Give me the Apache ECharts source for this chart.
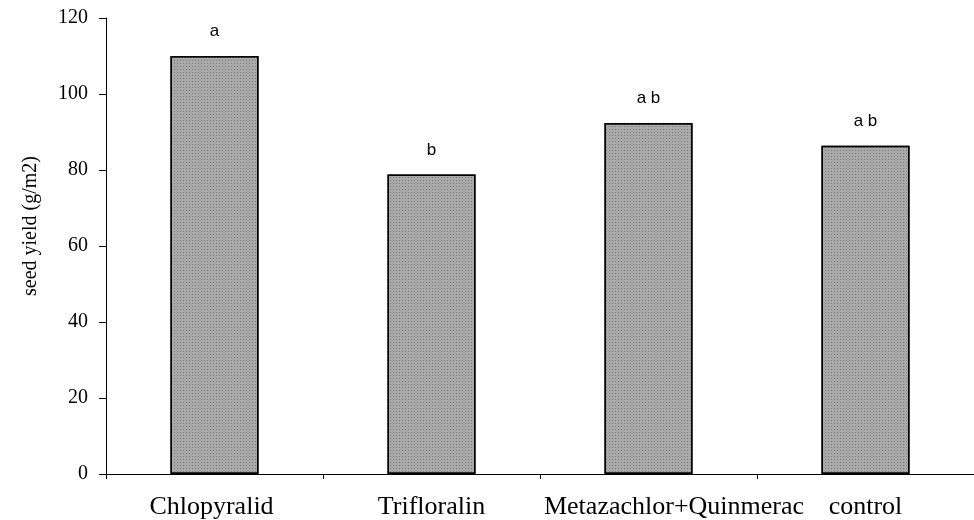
<!DOCTYPE html>
<html>
<head>
<meta charset="utf-8">
<script src="https://cdn.jsdelivr.net/npm/echarts@6/dist/echarts.min.js"></script>
<style>html,body{margin:0;padding:0;background:#fff}#c{width:974px;height:520px}</style>
</head>
<body>
<div id="c"></div>
<script>
var categories = ['Chlopyralid', 'Trifloralin', 'Metazachlor+Quinmerac', 'control'];
var seedYield = [110, 78.8, 92.4, 86.4];
var letters = ['a', 'b', 'a b', 'a b'];
var yTicks = [0, 20, 40, 60, 80, 100, 120];

var chart = echarts.init(document.getElementById('c'), null, {renderer: 'canvas'});
var serif = '"Liberation Serif", "Times New Roman", serif';
var sans = '"Liberation Sans", Arial, sans-serif';

chart.setOption({
  animation: false,
  backgroundColor: '#fff',
  grid: {left: 106, top: 18, width: 876, height: 456, containLabel: false},
  xAxis: {
    type: 'category',
    data: categories,
    axisLine: {lineStyle: {color: '#000', width: 1}},
    axisTick: {show: true, length: 5, lineStyle: {color: '#000'}},
    axisLabel: {
      interval: 0,
      margin: 20,
      color: '#000',
      fontFamily: serif,
      fontSize: 26,
      formatter: function (v, i) { return '{c' + i + '|' + v + '}'; },
      rich: {
        c0: {fontFamily: serif, fontSize: 26, color: '#000', padding: [0, 6, 0, 0]},
        c1: {fontFamily: serif, fontSize: 26, color: '#000'},
        c2: {fontFamily: serif, fontSize: 26, color: '#000', padding: [0, 0, 0, 51]},
        c3: {fontFamily: serif, fontSize: 26, color: '#000', padding: [0, 0, 0, 0]}
      }
    }
  },
  yAxis: {
    type: 'value',
    min: yTicks[0],
    max: yTicks[yTicks.length - 1],
    interval: 20,
    name: 'seed yield (g/m2)',
    nameLocation: 'middle',
    nameRotate: 90,
    nameGap: 65,
    nameTextStyle: {fontFamily: serif, fontSize: 20, color: '#000', padding: [0, 0, 0, 40]},
    axisLine: {show: true, lineStyle: {color: '#000', width: 1}},
    axisTick: {show: true, length: 7, lineStyle: {color: '#000'}},
    axisLabel: {margin: 18, color: '#000', fontFamily: serif, fontSize: 20},
    splitLine: {show: false}
  },
  series: [{
    type: 'bar',
    data: seedYield,
    barWidth: 88,
    itemStyle: {
      color: '#a9a9a9',
      borderColor: '#000',
      borderWidth: 1.5,
      decal: {
        symbol: 'rect',
        symbolSize: 1,
        dashArrayX: [1, 2],
        dashArrayY: [1, 2],
        color: '#7d7d7d',
        rotation: 0
      }
    },
    label: {
      show: true,
      position: 'top',
      distance: 16,
      fontFamily: sans,
      fontSize: 17,
      color: '#000',
      formatter: function (p) { return letters[p.dataIndex]; }
    }
  }]
});
</script>
</body>
</html>
